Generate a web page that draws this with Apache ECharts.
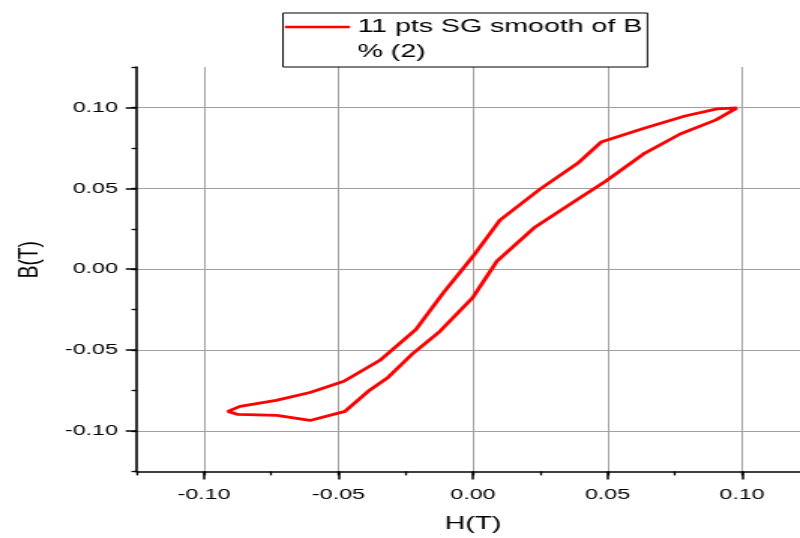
<!DOCTYPE html>
<html>
<head>
<meta charset="utf-8">
<script src="https://cdn.jsdelivr.net/npm/echarts@6/dist/echarts.min.js"></script>
<style>
html,body{margin:0;padding:0;background:#fff;overflow:hidden;width:800px;height:538px;}
#c{width:533px;height:538px;transform:scaleX(1.50094);transform-origin:0 0;}
</style>
</head>
<body>
<div id="c"></div>
<script>
// Upper (descending) branch of the loop
var hUpper = [0.0981, 0.0907, 0.0788, 0.0639, 0.0476, 0.0390, 0.0249, 0.0100, 0.0000, -0.0112, -0.0212, -0.0346, -0.0480, -0.0606, -0.0732, -0.0866, -0.0911];
var bUpper = [0.0997, 0.0991, 0.0947, 0.0873, 0.0786, 0.0656, 0.0495, 0.0303, 0.0080, -0.0149, -0.0372, -0.0563, -0.0693, -0.0762, -0.0811, -0.0848, -0.0879];
// Lower (ascending) branch of the loop
var hLower = [-0.0874, -0.0729, -0.0606, -0.0476, -0.0390, -0.0316, -0.0223, -0.0123, 0.0000, 0.0089, 0.0230, 0.0379, 0.0494, 0.0639, 0.0770, 0.0903, 0.0981];
var bLower = [-0.0898, -0.0904, -0.0935, -0.0879, -0.0755, -0.0669, -0.0520, -0.0384, -0.0173, 0.0050, 0.0260, 0.0421, 0.0545, 0.0718, 0.0836, 0.0923, 0.0997];
var majorTicks = [-0.10, -0.05, 0.00, 0.05, 0.10];
var seriesName = '11 pts SG smooth of B % (2)';
var xName = 'H(T)';
var yName = 'B(T)';

var loop = [];
for (var i = 0; i < hUpper.length; i++) loop.push([hUpper[i], bUpper[i]]);
for (var j = 0; j < hLower.length; j++) loop.push([hLower[j], bLower[j]]);

var FONT = '"Liberation Sans", Arial, sans-serif';
var chart = echarts.init(document.getElementById('c'), null, {renderer: 'canvas'});
var grid = {left: 91.1, top: 67, width: 448.1, height: 404.4, containLabel: false, outerBoundsMode: 'none'};

function majorAxis(dim) {
  var isX = dim === 'x';
  return {
    type: 'value',
    position: isX ? 'bottom' : 'left',
    min: -0.125, max: 0.125,
    name: isX ? xName : yName,
    nameLocation: 'middle',
    nameGap: isX ? 43 : 61.5,
    nameTextStyle: isX ? {fontSize: 19, color: '#000', fontFamily: FONT}
                       : {fontSize: 19, color: '#000', fontFamily: FONT, padding: [0, 0, 0, 19]},
    axisLine: {show: true, onZero: false, lineStyle: {color: '#000', width: 1.6}},
    axisTick: {show: true, length: isX ? 8 : 7.3, customValues: majorTicks, lineStyle: {color: '#000', width: 1.5}},
    axisLabel: {show: true, customValues: majorTicks, margin: isX ? 15 : 12.5, fontSize: 15.5, color: '#000', fontFamily: FONT,
      formatter: function (v) { return v.toFixed(2); }},
    splitLine: {show: true, lineStyle: {color: '#a0a0a0', width: 1}},
    minorTick: {show: false}
  };
}
function minorAxis(dim) {
  var isX = dim === 'x';
  return {
    type: 'value',
    position: isX ? 'bottom' : 'left',
    min: -0.125, max: 0.125, interval: 0.025,
    axisLine: {show: false, onZero: false},
    axisTick: {show: true, length: isX ? 4 : 3.5, lineStyle: {color: '#000', width: 1.3}},
    axisLabel: {show: false},
    splitLine: {show: false}
  };
}

chart.setOption({
  animation: false,
  backgroundColor: '#fff',
  grid: grid,
  legend: {
    show: true,
    left: 188.55, top: 13,
    orient: 'vertical',
    padding: [1, 3.5, 3, 1.3],
    borderColor: '#000', borderWidth: 1,
    itemWidth: 43.3, itemHeight: 50,
    icon: 'path://M0,0L0,0M0,11.8L43.3,11.8L43.3,14.2L0,14.2ZM0,50L0,50',
    itemStyle: {borderWidth: 0},
    textStyle: {fontSize: 19, lineHeight: 25, color: '#000', fontFamily: FONT},
    formatter: function (n) { return n.replace(' % ', '\n% '); },
    data: [seriesName]
  },
  xAxis: [majorAxis('x'), minorAxis('x')],
  yAxis: [majorAxis('y'), minorAxis('y')],
  series: [{
    name: seriesName,
    type: 'line',
    xAxisIndex: 0, yAxisIndex: 0,
    data: loop,
    showSymbol: false, symbol: 'none',
    smooth: false,
    color: '#ff0000',
    lineStyle: {color: '#ff0000', width: 2.8},
    itemStyle: {color: '#ff0000'}
  }]
});
</script>
</body>
</html>
